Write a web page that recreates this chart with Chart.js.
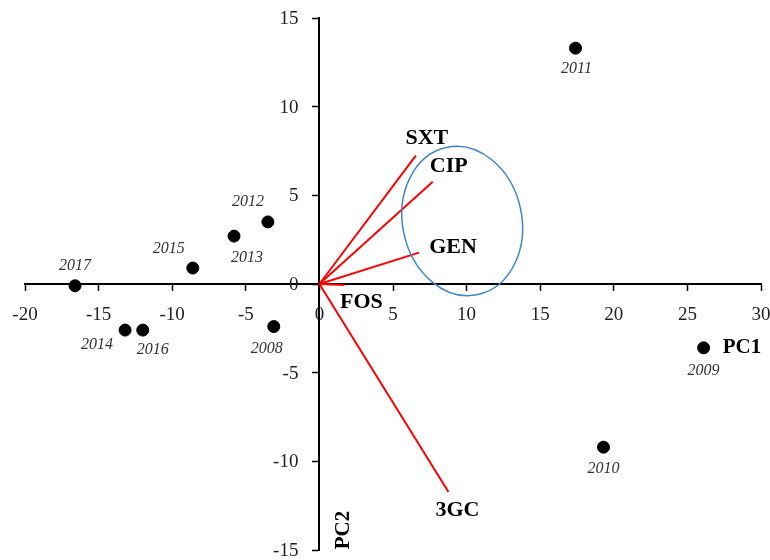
<!DOCTYPE html>
<html>
<head>
<meta charset="utf-8">
<script src="https://cdn.jsdelivr.net/npm/chart.js@4"></script>
<style>
  html, body { margin: 0; padding: 0; background: #ffffff; }
  #wrap { width: 770px; height: 560px; }
</style>
</head>
<body>
<div id="wrap"><canvas id="biplot" width="770" height="560"></canvas></div>
<script>
// PCA scores for each year
const years = ['2008', '2009', '2010', '2011', '2012', '2013', '2014', '2015', '2016', '2017'];
const pc1Scores = [-3.1, 26.1, 19.3, 17.4, -3.5, -5.8, -13.2, -8.6, -12.0, -16.6];
const pc2Scores = [-2.4, -3.6, -9.2, 13.3, 3.5, 2.7, -2.6, 0.9, -2.6, -0.1];

// Loadings of the antibiotic resistance variables
const variables = ['SXT', 'CIP', 'GEN', 'FOS', '3GC'];
const loadingPC1 = [6.55, 7.7, 6.77, 1.7, 8.77];
const loadingPC2 = [7.24, 5.77, 1.77, -0.05, -11.73];

// Axis ticks
const xTickValues = [-20, -15, -10, -5, 0, 5, 10, 15, 20, 25, 30];
const yTickValues = [-15, -10, -5, 0, 5, 10, 15];

// Cluster outline (data units) around CIP / GEN
const clusterCenter = [9.7, 3.55];
const clusterRadii = [4.05, 4.24];

// Label placement (pixel offsets from the mark)
const yearLabelOffsets = [[-7, 22], [0, 23], [0, 22], [1, 21], [-20, -20], [13, 22], [-28, 15], [-24, -19], [10, 20], [0, -20]];
const variableLabelOffsets = [[11, -17], [16, -15], [34, -5], [17, 17], [9, 18]];

const SERIF = "'Liberation Serif', 'Times New Roman', serif";

const vectorDatasets = variables.map((name, i) => ({
  type: 'line',
  label: name,
  data: [{ x: 0, y: 0 }, { x: loadingPC1[i], y: loadingPC2[i] }],
  borderColor: '#ff0000',
  borderWidth: 2,
  pointRadius: 0,
  fill: false,
  tension: 0,
  order: 2
}));

const scoreDataset = {
  type: 'scatter',
  label: 'years',
  data: pc1Scores.map((x, i) => ({ x, y: pc2Scores[i] })),
  backgroundColor: '#000000',
  borderColor: '#000000',
  pointRadius: 6,
  pointHoverRadius: 6,
  order: 1
};

// Vertical-axis tick labels, set to the left of the centred axis line
const yAxisLabels = {
  id: 'yAxisLabels',
  afterDraw(chart) {
    const ctx = chart.ctx;
    const xs = chart.scales.x, ys = chart.scales.y;
    const x0 = xs.getPixelForValue(0);
    ctx.save();
    ctx.font = '19px ' + SERIF;
    ctx.fillStyle = '#222222';
    ctx.textAlign = 'right';
    ctx.textBaseline = 'middle';
    yTickValues.forEach(v => {
      ctx.fillText(String(v), x0 - 21, ys.getPixelForValue(v) + 1);
    });
    ctx.restore();
  }
};

const annotations = {
  id: 'annotations',
  afterDatasetsDraw(chart) {
    const ctx = chart.ctx;
    const xs = chart.scales.x, ys = chart.scales.y;
    const area = chart.chartArea;
    ctx.save();

    // cluster ellipse
    const cx = xs.getPixelForValue(clusterCenter[0]);
    const cy = ys.getPixelForValue(clusterCenter[1]);
    const rx = Math.abs(xs.getPixelForValue(clusterCenter[0] + clusterRadii[0]) - cx);
    const ry = Math.abs(ys.getPixelForValue(clusterCenter[1] + clusterRadii[1]) - cy);
    ctx.beginPath();
    ctx.ellipse(cx, cy, rx, ry, -12 * Math.PI / 180, 0, Math.PI * 2);
    ctx.strokeStyle = '#3f85c8';
    ctx.lineWidth = 1.5;
    ctx.stroke();

    // year labels
    const meta = chart.getDatasetMeta(chart.data.datasets.length - 1);
    ctx.font = 'italic 16px ' + SERIF;
    ctx.fillStyle = '#333333';
    ctx.textAlign = 'center';
    ctx.textBaseline = 'middle';
    meta.data.forEach((pt, i) => {
      ctx.fillText(years[i], pt.x + yearLabelOffsets[i][0], pt.y + yearLabelOffsets[i][1]);
    });

    // variable labels
    ctx.font = 'bold 22px ' + SERIF;
    ctx.fillStyle = '#000000';
    variables.forEach((name, i) => {
      const px = xs.getPixelForValue(loadingPC1[i]);
      const py = ys.getPixelForValue(loadingPC2[i]);
      ctx.fillText(name, px + variableLabelOffsets[i][0], py + variableLabelOffsets[i][1]);
    });

    // axis titles
    ctx.font = 'bold 21px ' + SERIF;
    const x0 = xs.getPixelForValue(0);
    const y0 = ys.getPixelForValue(0);
    ctx.fillText('PC1', area.right - 19, y0 + 64);
    ctx.translate(x0 + 24, area.bottom - 20);
    ctx.rotate(-Math.PI / 2);
    ctx.fillText('PC2', 0, 0);
    ctx.restore();
  }
};

const axisCommon = {
  type: 'linear',
  border: { display: true, color: '#000000', width: 2 },
  grid: { display: true, drawOnChartArea: false, drawTicks: true, tickLength: 6, tickColor: '#000000', tickWidth: 1.5 },
};

new Chart(document.getElementById('biplot'), {
  data: { datasets: [...vectorDatasets, scoreDataset] },
  options: {
    responsive: false,
    animation: false,
    events: [],
    layout: { padding: { left: 25, right: 9, top: 18, bottom: 10 } },
    plugins: { legend: { display: false }, tooltip: { enabled: false } },
    scales: {
      x: {
        ...axisCommon,
        min: -20, max: 30,
        position: { y: 0 },
        afterBuildTicks: s => { s.ticks = xTickValues.map(v => ({ value: v })); },
        afterFit: s => { s.height = 0; s.paddingLeft = 0; s.paddingRight = 0; },
        ticks: { font: { family: SERIF, size: 19 }, color: '#222222', padding: 14, maxRotation: 0, autoSkip: false }
      },
      y: {
        ...axisCommon,
        min: -15, max: 15,
        position: { x: 0 },
        afterBuildTicks: s => { s.ticks = yTickValues.map(v => ({ value: v })); },
        afterFit: s => { s.width = 0; s.paddingTop = 0; s.paddingBottom = 0; },
        ticks: { display: false, autoSkip: false }
      }
    }
  },
  plugins: [annotations, yAxisLabels]
});
</script>
</body>
</html>
